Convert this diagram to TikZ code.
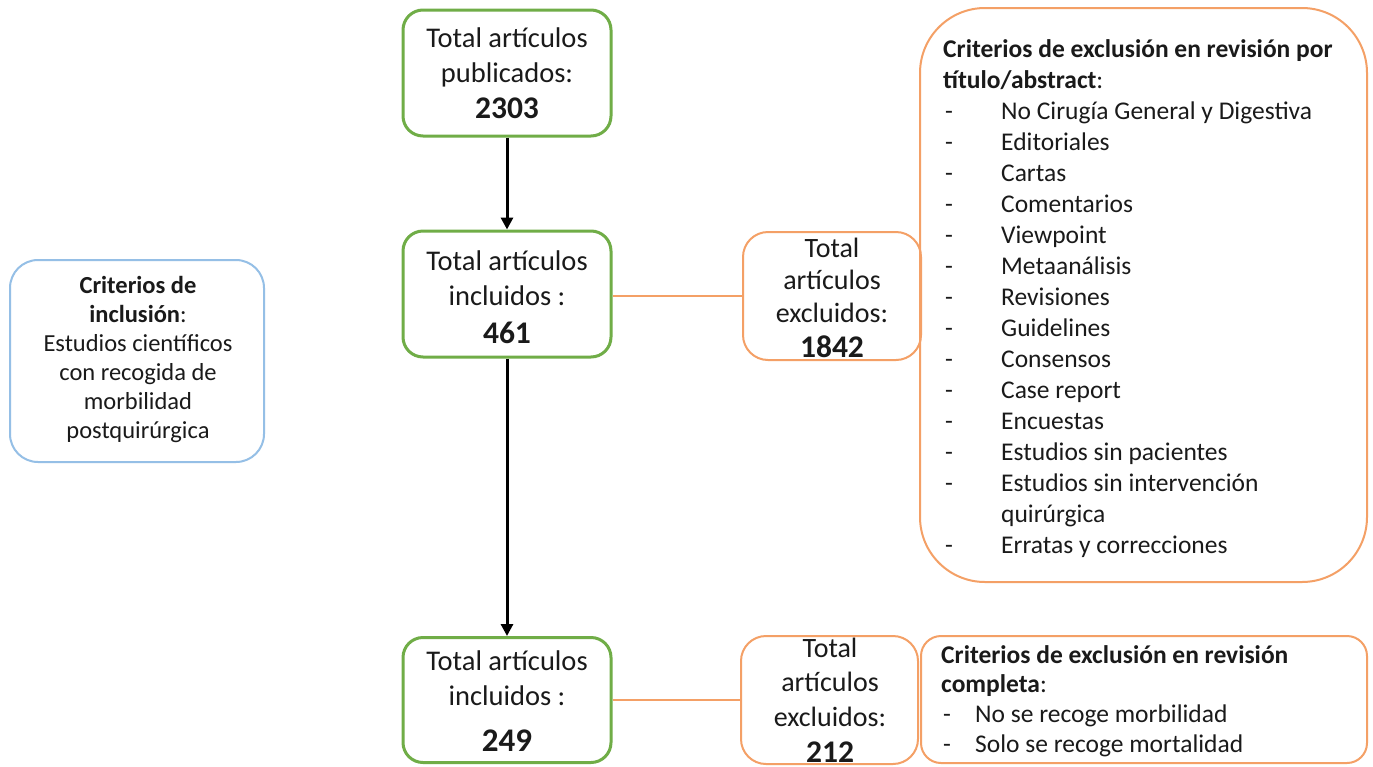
\documentclass[tikz,border=0pt]{standalone}
\usepackage{fontspec}
\setmainfont{Carlito}
\usetikzlibrary{arrows.meta}
\definecolor{grn}{HTML}{70AD47}
\definecolor{orn}{HTML}{F4A066}
\definecolor{blu}{HTML}{95BFE6}
\definecolor{ink}{HTML}{1A1A1A}
\tikzset{
  gbox/.style={draw=grn, line width=3pt, rounded corners=20pt, minimum width=208pt, minimum height=126pt, inner sep=0pt},
  obox/.style={draw=orn, line width=2pt, inner sep=0pt},
  bbox/.style={draw=blu, line width=2pt, rounded corners=28pt, inner sep=0pt},
  lbl/.style={anchor=base, inner sep=0pt, text=ink},
  lblw/.style={anchor=base west, inner sep=0pt, text=ink},
  arr/.style={line width=3pt, -{Triangle[length=12pt,width=12pt]}},
  oline/.style={draw=orn, line width=1.6pt},
}
\newcommand{\gtxt}{\fontsize{28.5}{35.5}\selectfont}
\newcommand{\bignum}[1]{{\fontsize{31.5}{30}\selectfont\bfseries #1}}
\newcommand{\dashA}[1]{\makebox[58pt][l]{\hspace{2pt}-}#1}
\newcommand{\dashB}[1]{\makebox[34pt][l]{\hspace{2pt}-}#1}
\begin{document}
\begin{tikzpicture}[x=1pt,y=-1pt]
\useasboundingbox[fill=white] (0,0) rectangle (1373,766);
% boxes
\node[gbox] (g1) at (507,73) {};
\node[gbox] (g2) at (507,294) {};
\node[gbox, minimum height=125pt] (g3) at (507,700) {};
\node[obox, rounded corners=25pt, minimum width=178pt, minimum height=128pt] (o1) at (832,296) {};
\node[obox, rounded corners=25pt, minimum width=177pt, minimum height=128pt] (o2) at (829.5,700) {};
\node[obox, rounded corners=65pt, minimum width=447pt, minimum height=574pt] (c1) at (1143.5,295) {};
\node[obox, rounded corners=20pt, minimum width=446pt, minimum height=127pt] (c2) at (1144,699.5) {};
\node[bbox, minimum width=254pt, minimum height=202pt] (inc) at (137,361) {};
% connectors
\draw[arr] (g1) -- (g2);
\draw[arr] (g2) -- (g3);
\draw[oline] (o1.west -| g2.east) -- (o1.west);
\draw[oline] (o2.west -| g3.east) -- (o2.west);
% texts
\node[lbl] (g1t) at (507,47) {\gtxt\begin{tabular}[t]{@{}c@{}}Total artículos\\ publicados:\\ \bignum{2303}\end{tabular}};
\node[lbl] (g2t) at (507,270) {\gtxt\begin{tabular}[t]{@{}c@{}}Total artículos\\ incluidos :\\[2.5pt] \bignum{461}\end{tabular}};
\node[lbl] (g3t) at (507,670) {\gtxt\begin{tabular}[t]{@{}c@{}}Total artículos\\ incluidos :\\[10pt] {\fontsize{33}{32}\selectfont\bfseries 249}\end{tabular}};
\node[lbl] (o1t) at (832,257) {\fontsize{28}{32.5}\selectfont\begin{tabular}[t]{@{}c@{}}Total\\ artículos\\ excluidos:\\[2.5pt] \bignum{1842}\end{tabular}};
\node[lbl] (o2t) at (830,657) {\fontsize{28}{34.5}\selectfont\begin{tabular}[t]{@{}c@{}}Total\\ artículos\\ excluidos:\\[2pt] \bignum{212}\end{tabular}};
\node[lblw] (c1t) at (943,57) {\fontsize{25.5}{31}\selectfont\begin{tabular}[t]{@{}l@{}}
\textbf{Criterios de exclusión en revisión por}\\
\textbf{título/abstract}:\\
\dashA{No Cirugía General y Digestiva}\\
\dashA{Editoriales}\\
\dashA{Cartas}\\
\dashA{Comentarios}\\
\dashA{Viewpoint}\\
\dashA{Metaanálisis}\\
\dashA{Revisiones}\\
\dashA{Guidelines}\\
\dashA{Consensos}\\
\dashA{Case report}\\
\dashA{Encuestas}\\
\dashA{Estudios sin pacientes}\\
\dashA{Estudios sin intervención}\\
\hspace{58pt}quirúrgica\\
\dashA{Erratas y correcciones}
\end{tabular}};
\node[lblw] (c2t) at (941,663) {\fontsize{25.5}{29.7}\selectfont\begin{tabular}[t]{@{}l@{}}
\textbf{Criterios de exclusión en revisión}\\
\textbf{completa}:\\
\dashB{No se recoge morbilidad}\\
\dashB{Solo se recoge mortalidad}
\end{tabular}};
\node[lbl] (inct) at (138,293) {\fontsize{24.5}{29}\selectfont\begin{tabular}[t]{@{}c@{}}
\textbf{Criterios de}\\
\textbf{inclusión}:\\
Estudios científicos\\
con recogida de\\
morbilidad\\
postquirúrgica
\end{tabular}};
\end{tikzpicture}
\end{document}
